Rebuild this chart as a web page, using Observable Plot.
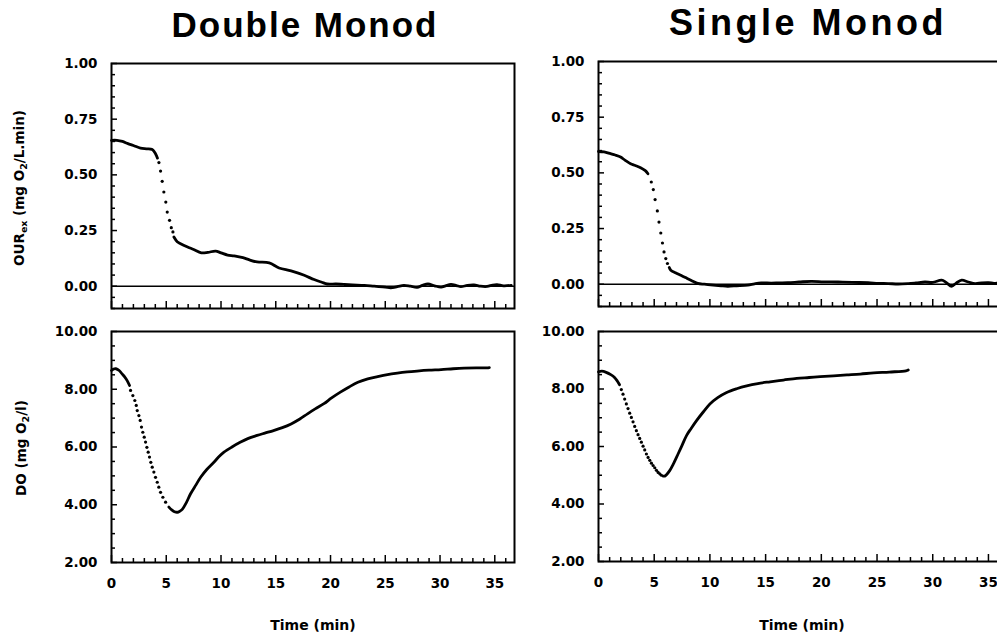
<!DOCTYPE html>
<html>
<head>
<meta charset="utf-8">
<script src="https://cdn.jsdelivr.net/npm/d3@7"></script>
<script src="https://cdn.jsdelivr.net/npm/@observablehq/plot@0.6"></script>
<style>
  html, body { margin: 0; padding: 0; background: #fff; overflow: hidden; }
  #wrap { position: relative; width: 997px; height: 639px; overflow: hidden; font-family: "DejaVu Sans", sans-serif; color: #000; }
  .panel { position: absolute; }
  .title { position: absolute; font-family: "Liberation Sans", Arial, sans-serif; font-weight: bold; white-space: nowrap; transform: translateX(-50%); line-height: 1.2; }
  .xlab { position: absolute; font-family: "DejaVu Sans", sans-serif; font-weight: bold; font-size: 14px; white-space: nowrap; transform: translate(-50%, -50%); }
  .ylab { position: absolute; font-family: "DejaVu Sans", sans-serif; font-weight: bold; font-size: 13.5px; white-space: nowrap; transform: translate(-50%, -50%) rotate(-90deg); }
  .ylab sub { font-size: 0.7em; vertical-align: -0.3em; line-height: 0; }
</style>
</head>
<body>
<div id="wrap"></div>
<script>
// ---- Data (time in min, value) ----
const panelTitles = ["Double Monod", "Single Monod"];
const xTitle = "Time (min)";

const timeTicks = [0, 5, 10, 15, 20, 25, 30, 35];
const ourTicks = [0, 0.25, 0.5, 0.75, 1];
const doTicks = [2, 4, 6, 8, 10];

// OUR_ex, Double Monod
const ourDouble = [
  [0, 0.655], [0.5, 0.655], [1.0, 0.650], [1.5, 0.640], [2.0, 0.632], [2.65, 0.620], [3.2, 0.617], [3.72, 0.614], [4.02, 0.595], [4.20, 0.575],
  [4.33, 0.555], [4.48, 0.517], [4.63, 0.471], [4.78, 0.423], [4.96, 0.378], [5.09, 0.333], [5.30, 0.296], [5.46, 0.263], [5.61, 0.244],
  [5.70, 0.221], [6.0, 0.200], [6.31, 0.191], [6.9, 0.177], [7.5, 0.165], [8.2, 0.150], [8.8, 0.152], [9.5, 0.158], [10.0, 0.150], [10.6, 0.140],
  [11.2, 0.136], [12.0, 0.128], [12.6, 0.118], [13.3, 0.109], [14.4, 0.105], [15.3, 0.082], [16.4, 0.069], [17.6, 0.049], [18.5, 0.030],
  [19.2, 0.018], [19.7, 0.010], [20.5, 0.010], [21.2, 0.008], [22.0, 0.006], [23.1, 0.004], [24.0, 0.0], [25.0, -0.004], [25.5, -0.007],
  [26.1, -0.002], [26.7, 0.004], [27.3, 0.0], [27.9, -0.005], [28.4, 0.004], [28.9, 0.010], [29.5, 0.002], [30.1, -0.004], [30.5, 0.002],
  [31.0, 0.008], [31.5, 0.003], [31.9, -0.002], [32.5, 0.004], [33.1, 0.006], [33.7, 0.0], [34.3, -0.001], [34.8, 0.005], [35.2, 0.007],
  [35.8, 0.002], [36.5, 0.004]
];
// OUR_ex, Single Monod
const ourSingle = [
  [0, 0.596], [0.5, 0.594], [1.08, 0.586], [1.5, 0.580], [1.98, 0.571], [2.4, 0.556], [2.88, 0.541], [3.3, 0.533], [3.78, 0.523], [4.2, 0.510], [4.44, 0.496],
  [4.74, 0.459], [4.92, 0.425], [5.08, 0.380], [5.28, 0.329], [5.43, 0.279], [5.59, 0.230], [5.74, 0.185], [5.88, 0.145], [6.04, 0.115], [6.19, 0.093],
  [6.35, 0.075], [6.49, 0.063], [6.9, 0.052], [7.39, 0.040], [7.8, 0.030], [8.29, 0.018], [8.9, 0.004], [9.5, 0.0], [10.3, -0.004], [11.0, -0.007],
  [11.6, -0.009], [12.4, -0.007], [13.4, -0.004], [14.0, 0.002], [14.6, 0.006], [15.5, 0.005], [16.2, 0.006], [17.0, 0.007], [18.0, 0.010],
  [19.1, 0.013], [20.2, 0.011], [21.5, 0.010], [22.8, 0.008], [24.2, 0.007], [25.1, 0.004], [26.0, 0.003], [26.9, 0.001], [27.8, 0.003],
  [28.5, 0.006], [29.3, 0.010], [30.0, 0.008], [30.8, 0.018], [31.2, 0.008], [31.7, -0.009], [32.1, 0.005], [32.6, 0.018], [33.2, 0.010],
  [33.8, 0.003], [34.4, 0.006], [35.0, 0.007], [35.5, 0.004], [36.0, 0.006], [36.8, 0.005]
];
// DO, Double Monod
const doDouble = [
  [0, 8.65], [0.2, 8.70], [0.4, 8.71], [0.7, 8.65], [0.97, 8.53], [1.2, 8.43], [1.43, 8.30], [1.65, 8.13],
  [1.74, 7.96], [1.95, 7.78], [2.13, 7.61], [2.26, 7.44], [2.35, 7.26], [2.50, 7.09], [2.62, 6.92], [2.74, 6.69], [2.86, 6.51], [2.99, 6.34],
  [3.11, 6.17], [3.23, 5.99], [3.35, 5.82], [3.47, 5.65], [3.59, 5.47], [3.72, 5.30], [3.87, 5.13], [4.02, 4.95], [4.18, 4.78], [4.32, 4.61],
  [4.48, 4.43], [4.69, 4.26], [4.94, 4.09],
  [5.24, 3.92], [5.5, 3.82], [5.75, 3.76], [6.0, 3.74], [6.25, 3.78], [6.46, 3.84], [6.8, 4.05], [7.22, 4.38], [7.7, 4.68], [8.14, 4.95],
  [8.7, 5.22], [9.35, 5.47], [9.8, 5.66], [10.27, 5.82], [11.0, 6.0], [11.79, 6.17], [12.5, 6.30], [13.3, 6.40], [14.0, 6.48], [14.8, 6.57],
  [15.6, 6.67], [16.4, 6.80], [17.2, 6.97], [17.9, 7.15], [18.6, 7.32], [19.4, 7.50], [20.1, 7.70], [20.9, 7.90], [21.7, 8.08], [22.5, 8.24],
  [23.4, 8.36], [24.3, 8.44], [25.2, 8.51], [26.1, 8.56], [27.0, 8.60], [27.9, 8.63], [29.0, 8.66], [30.1, 8.68], [31.2, 8.71], [32.2, 8.73],
  [33.3, 8.74], [34.3, 8.74], [34.5, 8.75]
];
// DO, Single Monod
const doSingle = [
  [0, 8.60], [0.3, 8.62], [0.69, 8.58], [1.1, 8.50], [1.44, 8.40], [1.7, 8.27], [1.89, 8.15],
  [2.05, 7.98], [2.20, 7.82], [2.35, 7.65], [2.50, 7.48], [2.65, 7.32], [2.80, 7.16], [2.95, 7.01], [3.10, 6.86], [3.25, 6.70], [3.40, 6.55],
  [3.55, 6.41], [3.70, 6.28], [3.85, 6.15], [4.00, 6.01], [4.15, 5.88], [4.30, 5.74], [4.45, 5.62], [4.60, 5.52], [4.75, 5.42], [4.90, 5.34],
  [5.05, 5.26], [5.20, 5.17], [5.35, 5.10], [5.50, 5.05], [5.65, 5.00],
  [5.80, 4.97], [5.95, 4.97], [6.1, 5.02], [6.39, 5.16], [6.7, 5.38], [7.14, 5.74], [7.5, 6.04], [7.9, 6.38], [8.3, 6.62], [8.8, 6.90],
  [9.4, 7.20], [10.0, 7.48], [10.7, 7.70], [11.5, 7.88], [12.4, 8.01], [13.3, 8.11], [14.3, 8.19], [15.4, 8.25], [16.6, 8.31], [17.8, 8.37],
  [18.9, 8.40], [19.9, 8.43], [21.1, 8.46], [22.3, 8.49], [23.5, 8.52], [24.7, 8.56], [26.1, 8.59], [27.6, 8.63], [27.8, 8.66]
];

// ---- Chart construction ----
const wrap = document.getElementById("wrap");
const fmt2 = d3.format(".2f");
const X_DOMAIN = [0, 36.8];

function seriesMarks(data, dotFrom, dotTo) {
  const pts = data.map(([t, v]) => ({t, v}));
  const before = pts.filter(d => d.t < dotFrom);
  const dots = pts.filter(d => d.t >= dotFrom && d.t <= dotTo);
  const after = pts.filter(d => d.t > dotTo);
  return [
    Plot.line(before, {x: "t", y: "v", stroke: "black", strokeWidth: 2.8, curve: "catmull-rom"}),
    Plot.dot(dots, {x: "t", y: "v", r: 1.6, fill: "black", stroke: "none"}),
    Plot.line(after, {x: "t", y: "v", stroke: "black", strokeWidth: 2.8, curve: "catmull-rom"})
  ];
}

// inward-pointing ticks: draw outward ticks and shift them inside the frame
function inTicksY(values, size) {
  return Plot.axisY(values, {tickSize: size, dx: size, tickFormat: () => "", label: null, strokeWidth: 1.5});
}
function inTicksX(values, size) {
  return Plot.axisX(values, {tickSize: size, dy: -size, tickFormat: () => "", label: null, strokeWidth: 1.5});
}

function makePanel({left, top, width, height, margins, yDomain, yTicks, yMinorStep, xLabels, series, zeroRule}) {
  const xMinor = d3.range(0, 37, 1).filter(d => d % 5 !== 0);
  const yMinor = d3.range(yDomain[0], yDomain[1] + 1e-9, yMinorStep)
    .map(d => +d.toFixed(4))
    .filter(d => !yTicks.some(t => Math.abs(t - d) < 1e-6));
  const marks = [
    Plot.axisY(yTicks, {tickSize: 0, tickPadding: 14, tickFormat: fmt2, label: null, fontWeight: "bold"}),
    inTicksY(yTicks, 6),
    inTicksY(yMinor, 4),
    inTicksX(timeTicks, 7),
    inTicksX(xMinor, 4),
  ];
  if (xLabels) marks.push(Plot.axisX(timeTicks, {tickSize: 0, tickPadding: 16, label: null, fontWeight: "bold"}));
  if (zeroRule) marks.push(Plot.ruleY([0], {stroke: "black", strokeWidth: 1.3}));
  marks.push(...series);
  marks.push(Plot.frame({stroke: "black", strokeWidth: 2}));

  const svg = Plot.plot({
    width, height,
    marginLeft: margins[0], marginRight: margins[1], marginTop: margins[2], marginBottom: margins[3],
    x: {domain: X_DOMAIN, label: null},
    y: {domain: yDomain, label: null},
    style: {fontFamily: "DejaVu Sans", fontSize: "13.5px", fontWeight: "bold", color: "black", background: "transparent", overflow: "visible"},
    marks
  });
  svg.classList.add("panel");
  svg.style.left = left + "px";
  svg.style.top = top + "px";
  wrap.appendChild(svg);
}

// Left column (Double Monod)
makePanel({left: 0, top: 50, width: 530, height: 270, margins: [111, 16, 13, 12],
  yDomain: [-0.1, 1], yTicks: ourTicks, yMinorStep: 0.05, xLabels: false, zeroRule: true,
  series: seriesMarks(ourDouble, 4.3, 5.65)});
makePanel({left: 0, top: 310, width: 530, height: 329, margins: [111, 16, 21, 77],
  yDomain: [2, 10], yTicks: doTicks, yMinorStep: 0.5, xLabels: true, zeroRule: false,
  series: seriesMarks(doDouble, 1.7, 5.0)});
// Right column (Single Monod)
makePanel({left: 500, top: 50, width: 530, height: 270, margins: [98, 22, 11, 14],
  yDomain: [-0.1, 1], yTicks: ourTicks, yMinorStep: 0.05, xLabels: false, zeroRule: true,
  series: seriesMarks(ourSingle, 4.6, 6.25)});
makePanel({left: 500, top: 310, width: 530, height: 329, margins: [98, 22, 21, 78],
  yDomain: [2, 10], yTicks: doTicks, yMinorStep: 0.5, xLabels: true, zeroRule: false,
  series: seriesMarks(doSingle, 2.0, 5.7)});

// Titles and axis labels
function addDiv(cls, html, css) {
  const d = document.createElement("div");
  d.className = cls;
  d.innerHTML = html;
  Object.assign(d.style, css);
  wrap.appendChild(d);
}
addDiv("title", panelTitles[0], {left: "305px", top: "4px", fontSize: "35px", letterSpacing: "2px"});
addDiv("title", panelTitles[1], {left: "808px", top: "1px", fontSize: "36px", letterSpacing: "3.5px"});
addDiv("xlab", xTitle, {left: "313px", top: "625px"});
addDiv("xlab", xTitle, {left: "802px", top: "625px"});
addDiv("ylab", "OUR<sub>ex</sub> (mg O<sub>2</sub>/L.min)", {left: "19px", top: "188px"});
addDiv("ylab", "DO (mg O<sub>2</sub>/l)", {left: "21px", top: "448px"});
</script>
</body>
</html>
